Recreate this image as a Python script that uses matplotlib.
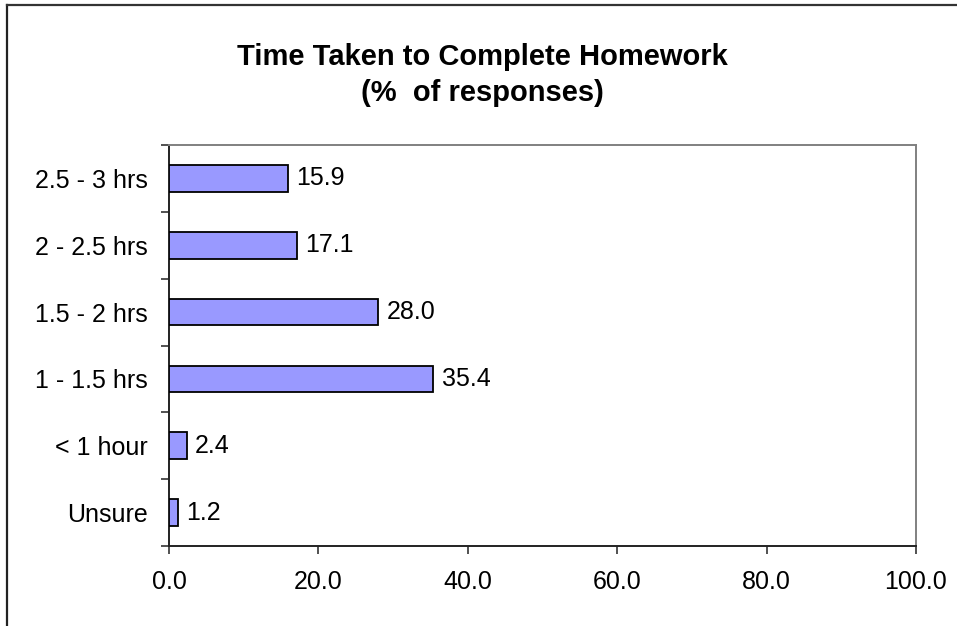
import matplotlib
matplotlib.use("Agg")
import matplotlib.pyplot as plt
from matplotlib.lines import Line2D
import numpy as np

plt.rcParams['font.family'] = ['Liberation Sans', 'DejaVu Sans']

categories = ["Unsure", "< 1 hour", "1 - 1.5 hrs", "1.5 - 2 hrs", "2 - 2.5 hrs", "2.5 - 3 hrs"]
values = [1.2, 2.4, 35.4, 28.0, 17.1, 15.9]
xticks = [0, 20, 40, 60, 80, 100]

W, H = 957, 626
fig = plt.figure(figsize=(W / 100, H / 100), dpi=100)
fig.patch.set_facecolor("white")

# outer chart frame (left and top visible)
fig.add_artist(Line2D([7 / W, 7 / W], [0, 1 - 5 / H], transform=fig.transFigure,
                      color="#222222", lw=1.6))
fig.add_artist(Line2D([7 / W, 1], [1 - 5 / H, 1 - 5 / H], transform=fig.transFigure,
                      color="#333333", lw=1.6))

left, right, top, bottom = 169, 916, 145, 546
ax = fig.add_axes([left / W, 1 - bottom / H, (right - left) / W, (bottom - top) / H])

y = np.arange(len(categories))
ax.barh(y, values, height=0.4, color="#9999FF", edgecolor="black", linewidth=1.3, zorder=3)
for yi, v in zip(y, values):
    ax.text(v + 1.1, yi, f"{v:.1f}", va="center", ha="left", fontsize=18, color="black")

ax.set_xlim(0, 100)
ax.set_ylim(-0.5, len(categories) - 0.5)
ax.set_xticks(xticks)
ax.set_xticklabels([f"{t:.1f}" for t in xticks], fontsize=18)
ax.set_yticks(y)
ax.set_yticklabels(categories, fontsize=18)
ax.set_yticks(np.arange(-0.5, len(categories), 1.0), minor=True)
ax.tick_params(axis="y", which="major", length=0, pad=15)
ax.tick_params(axis="y", which="minor", length=6, width=1.2, color="#333333", direction="out")
ax.tick_params(axis="x", which="major", length=6, width=1.2, color="#333333", direction="out", pad=11)

ax.spines["left"].set_color("#222222")
ax.spines["left"].set_linewidth(1.4)
ax.spines["bottom"].set_color("#222222")
ax.spines["bottom"].set_linewidth(1.4)
ax.spines["top"].set_color("#808080")
ax.spines["top"].set_linewidth(1.4)
ax.spines["right"].set_color("#808080")
ax.spines["right"].set_linewidth(1.4)

fig.text(482 / W, 1 - 57 / H, "Time Taken to Complete Homework", ha="center", va="center",
         fontsize=21, fontweight="bold")
fig.text(482 / W, 1 - 93 / H, "(%  of responses)", ha="center", va="center",
         fontsize=21, fontweight="bold")

fig.savefig("out.png", dpi=100, facecolor="white")
